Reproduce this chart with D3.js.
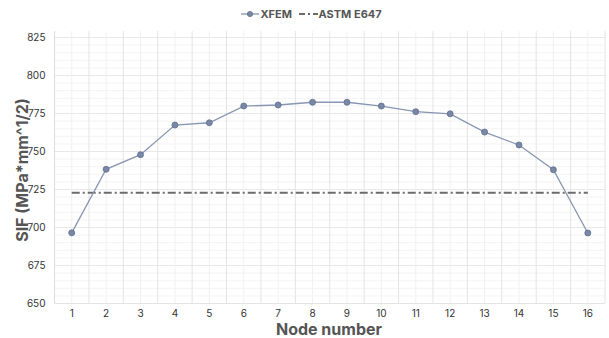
<!DOCTYPE html>
<html>
<head>
<meta charset="utf-8">
<script src="https://cdn.jsdelivr.net/npm/d3@7"></script>
<style>
  html, body { margin: 0; padding: 0; background: #fff; }
  svg { display: block; font-family: Inter, "Noto Sans", sans-serif; }
</style>
</head>
<body>
<svg id="chart" width="609" height="338"></svg>
<script>
// Stress intensity factor along the crack front nodes
const nodes = [1, 2, 3, 4, 5, 6, 7, 8, 9, 10, 11, 12, 13, 14, 15, 16];
const xfemValues = [696.5, 738.3, 747.9, 767.4, 768.9, 779.9, 780.6, 782.4, 782.4, 779.9, 776.2, 774.8, 762.8, 754.3, 738.0, 696.4];
const astmValue = 722.9;
const yTicks = [650, 675, 700, 725, 750, 775, 800, 825];
const seriesNames = ["XFEM", "ASTM E647"];

const svg = d3.select("#chart");
const margin = { left: 54.5, right: 4, top: 31, bottom: 34.5 };
const W = 609, H = 338;
const plotW = W - margin.left - margin.right;
const plotH = H - margin.top - margin.bottom;

const x = d3.scaleBand().domain(nodes).range([margin.left, margin.left + plotW]);
const y = d3.scaleLinear().domain([650, 825]).range([303.5, 37.5]);
const cx = d => x(d) + x.bandwidth() / 2;
const yTop = margin.top, yBot = y(650);

const grid = svg.append("g");
// horizontal minor lines every 5
d3.range(650, 831, 5).forEach(v => {
  if (y(v) < yTop) return;
  grid.append("line")
    .attr("x1", margin.left).attr("x2", margin.left + plotW)
    .attr("y1", y(v)).attr("y2", y(v))
    .attr("stroke", v % 25 === 0 ? "#e8e8e8" : "#f3f3f3")
    .attr("stroke-width", v % 25 === 0 ? 1.2 : 1);
});
// vertical lines: light at node centres, stronger at band edges
nodes.forEach(n => {
  grid.append("line")
    .attr("x1", cx(n)).attr("x2", cx(n)).attr("y1", yTop).attr("y2", yBot)
    .attr("stroke", "#f1f1f1");
  grid.append("line")
    .attr("x1", x(n) + x.bandwidth()).attr("x2", x(n) + x.bandwidth()).attr("y1", yTop).attr("y2", yBot)
    .attr("stroke", "#e4e4e4");
});
// axis lines
grid.append("line").attr("x1", margin.left).attr("x2", margin.left).attr("y1", yTop).attr("y2", yBot)
  .attr("stroke", "#dcdcdc");
grid.append("line").attr("x1", margin.left).attr("x2", margin.left + plotW).attr("y1", yBot).attr("y2", yBot)
  .attr("stroke", "#e4e4e4");

// y tick labels
const yAxis = svg.append("g").attr("transform", `translate(${margin.left - 9},0)`)
  .call(d3.axisLeft(y).tickValues(yTicks).tickSize(0).tickPadding(0));
yAxis.select(".domain").remove();
yAxis.selectAll("text").attr("font-size", 10).attr("fill", "#333").attr("font-family", "Inter, sans-serif");

// x tick labels
const xAxis = svg.append("g").attr("transform", `translate(0,${yBot + 6})`)
  .call(d3.axisBottom(x).tickSize(0).tickPadding(0));
xAxis.select(".domain").remove();
xAxis.selectAll("text").attr("font-size", 10).attr("fill", "#333").attr("font-family", "Inter, sans-serif");

// ASTM reference line
svg.append("line")
  .attr("x1", cx(nodes[0])).attr("x2", cx(nodes[nodes.length - 1]))
  .attr("y1", y(astmValue)).attr("y2", y(astmValue))
  .attr("stroke", "#6b6b6b").attr("stroke-width", 2)
  .attr("stroke-dasharray", "8,3,2,3");

// XFEM series
const line = d3.line().x((d, i) => cx(nodes[i])).y(d => y(d));
svg.append("path").datum(xfemValues)
  .attr("d", line).attr("fill", "none")
  .attr("stroke", "#8796b2").attr("stroke-width", 1.3);
svg.append("g").selectAll("circle").data(xfemValues).join("circle")
  .attr("cx", (d, i) => cx(nodes[i])).attr("cy", d => y(d)).attr("r", 3)
  .attr("fill", "#7888a6").attr("stroke", "#5f6f8c").attr("stroke-width", 0.8);

// axis titles
svg.append("text").attr("x", 329).attr("y", 335)
  .attr("text-anchor", "middle").attr("font-size", 16).attr("font-weight", 700)
  .attr("fill", "#555").text("Node number");
svg.append("text").attr("transform", "translate(28,170) rotate(-90)")
  .attr("text-anchor", "middle").attr("font-size", 16).attr("font-weight", 700)
  .attr("fill", "#555").text("SIF (MPa*mm^1/2)");

// legend
const leg = svg.append("g").attr("font-size", 11).attr("font-weight", 700).attr("fill", "#555");
leg.append("line").attr("x1", 241).attr("x2", 259).attr("y1", 14).attr("y2", 14)
  .attr("stroke", "#8796b2").attr("stroke-width", 1.3);
leg.append("circle").attr("cx", 250).attr("cy", 14).attr("r", 2.6)
  .attr("fill", "#7888a6").attr("stroke", "#5f6f8c").attr("stroke-width", 0.8);
leg.append("text").attr("x", 260.5).attr("y", 18).text(seriesNames[0]);
leg.append("line").attr("x1", 299).attr("x2", 318).attr("y1", 14).attr("y2", 14)
  .attr("stroke", "#6b6b6b").attr("stroke-width", 2).attr("stroke-dasharray", "6,3,2,3");
leg.append("text").attr("x", 318.5).attr("y", 18).text(seriesNames[1]);
</script>
</body>
</html>
